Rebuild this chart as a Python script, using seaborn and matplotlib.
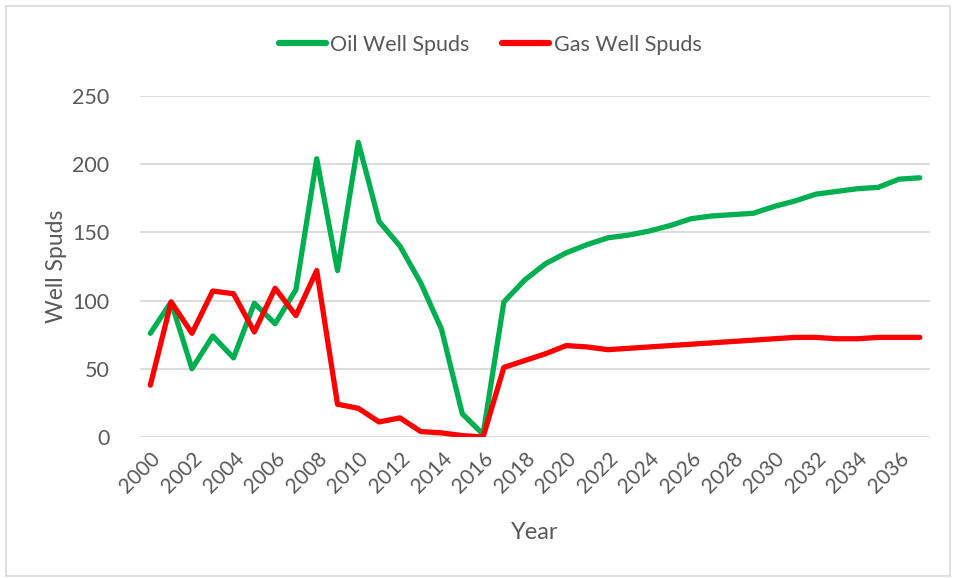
import numpy as np
import pandas as pd
import seaborn as sns
import matplotlib
matplotlib.use("Agg")
import matplotlib.pyplot as plt
from matplotlib.patches import Rectangle

years = list(range(2000, 2038))
oil = [76, 99, 50, 74, 58, 98, 83, 108, 204, 122, 216, 158, 140, 113, 79, 17, 2,
       99, 115, 127, 135, 141, 146, 148, 151, 155, 160, 162, 163, 164, 169, 173,
       178, 180, 182, 183, 189, 190]
gas = [38, 99, 76, 107, 105, 77, 109, 89, 122, 24, 21, 11, 14, 4, 3, 1, 0,
       51, 56, 61, 67, 66, 64, 65, 66, 67, 68, 69, 70, 71, 72, 73,
       73, 72, 72, 73, 73, 73]
series_names = ["Oil Well Spuds", "Gas Well Spuds"]
colors = ["#00B050", "#FF0000"]
x_ticks = list(range(2000, 2037, 2))
y_ticks = [0, 50, 100, 150, 200, 250]

df = pd.DataFrame({
    "Year": years * 2,
    "Well Spuds": oil + gas,
    "Series": [series_names[0]] * len(years) + [series_names[1]] * len(years),
})

sns.set_theme(style="white")
plt.rcParams["font.family"] = ["Lato", "DejaVu Sans"]
text_color = "#595959"

fig = plt.figure(figsize=(9.56, 5.78), dpi=100)
ax = fig.add_axes([0.1464, 0.244, 0.8266, 0.590])

sns.lineplot(data=df, x="Year", y="Well Spuds", hue="Series",
             palette=dict(zip(series_names, colors)), linewidth=3.8,
             ax=ax, solid_capstyle="round", solid_joinstyle="round")

ax.set_xlim(1999.5, 2037.5)
ax.set_ylim(0, 250)
ax.set_xticks(x_ticks)
ax.set_xticklabels([str(t) for t in x_ticks], rotation=45, ha="right",
                   rotation_mode="anchor", fontsize=15, color=text_color)
ax.set_yticks(y_ticks)
ax.set_yticklabels([str(t) for t in y_ticks], fontsize=15.5, color=text_color)
ax.tick_params(axis="x", length=0, pad=8)
ax.tick_params(axis="y", length=0, pad=22)
ax.yaxis.grid(True, color="#D9D9D9", linewidth=1.3)
ax.set_axisbelow(True)
for s in ax.spines.values():
    s.set_visible(False)

ax.set_xlabel("Year", fontsize=17, color=text_color)
ax.set_ylabel("Well Spuds", fontsize=16.5, color=text_color)
ax.xaxis.label.set_va("center")
ax.yaxis.label.set_va("center")
ax.xaxis.set_label_coords(0.5, -0.2815)
ax.yaxis.set_label_coords(-0.105, 0.5)

leg = ax.legend(loc="center", bbox_to_anchor=(0.5125, 0.923), bbox_transform=fig.transFigure,
                ncol=2, frameon=False, fontsize=15.5, handlelength=2.2,
                handletextpad=0.2, columnspacing=1.5)
for t in leg.get_texts():
    t.set_color(text_color)
for h in leg.get_lines():
    h.set_linewidth(4.5)
    h.set_solid_capstyle("round")

fig.patches.append(Rectangle((0.006, 0.004), 0.988, 0.985, transform=fig.transFigure,
                             fill=False, edgecolor="#D9D9D9", linewidth=1.2))

fig.savefig("out.png", dpi=100)
